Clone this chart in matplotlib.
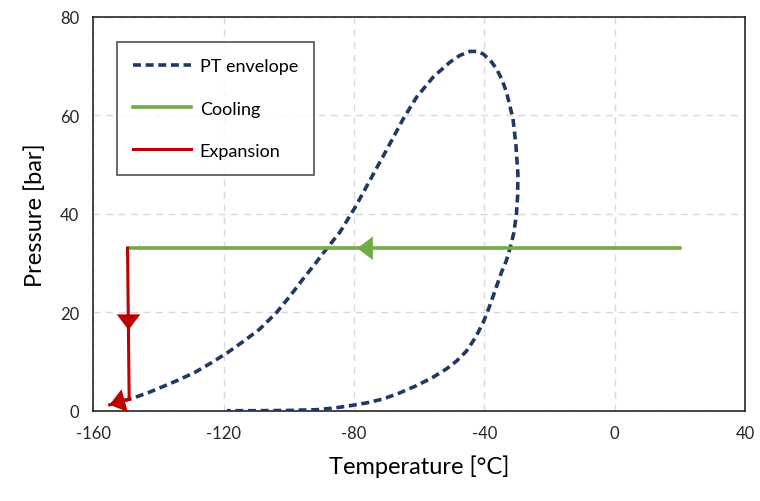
import numpy as np
import matplotlib.pyplot as plt

plt.rcParams['font.family'] = ['Lato', 'DejaVu Sans']
plt.rcParams['axes.unicode_minus'] = False

# PT envelope (temperature in C, pressure in bar)
env_T = [-154.4, -151.0, -147.2, -143.0, -139.0, -134.0, -128.8, -123.6, -118.6,
         -113.7, -108.9, -103.7, -99.5, -95.6, -92.0, -88.4, -84.3, -79.5, -74.3,
         -69.5, -64.9, -60.8, -55.7, -50.6, -47.5, -44.4, -42.3, -40.4, -38.2,
         -36.3, -34.6, -33.2, -31.2, -30.3, -29.7, -29.8, -30.2, -31.0, -32.2,
         -33.3, -34.7, -36.5, -38.3, -40.3, -42.7, -45.5, -48.5, -51.6, -56.0,
         -60.8, -66.0, -71.0, -76.0, -81.3, -86.0, -91.5, -100.0, -110.0, -119.0]
env_P = [1.4, 2.0, 2.7, 3.7, 4.8, 6.2, 7.8, 9.8, 11.9,
         14.2, 16.6, 20.0, 23.4, 26.8, 29.8, 32.9, 36.3, 41.5, 47.8,
         53.6, 59.3, 63.7, 67.8, 70.8, 72.2, 73.0, 73.0, 72.5, 71.2,
         69.5, 67.3, 64.7, 59.3, 53.9, 48.0, 43.5, 39.6, 36.0, 32.8,
         30.4, 28.2, 24.8, 21.4, 18.0, 14.9, 12.1, 10.1, 8.5, 6.7,
         5.1, 3.6, 2.4, 1.6, 1.0, 0.55, 0.2, 0.05, 0.0, 0.0]

# cooling path
cool_T = [20.0, -149.5]
cool_P = [33.0, 33.0]
cool_arrow = (-79.0, 33.0)

# expansion path
exp_T = [-149.5, -149.0, -155.0]
exp_P = [33.0, 2.3, 1.2]
exp_arrow_mid = (-149.2, 16.4)
exp_arrow_end = (-155.0, 1.2)

navy = '#1F3864'
green = '#70AD47'
red = '#C00000'

fig = plt.figure(figsize=(7.6, 5.02), dpi=100)
ax = fig.add_axes([0.1228, 0.1799, 0.8575, 0.7843])

ax.plot(env_T, env_P, color=navy, lw=2.6, ls=(0, (2.2, 1.3)), label='PT envelope', zorder=3)
ax.plot(cool_T, cool_P, color=green, lw=2.6, label='Cooling', zorder=4)
ax.plot(exp_T[:2], exp_P[:2], color=red, lw=2.2, label='Expansion', zorder=5)
ax.plot(exp_T[1:], exp_P[1:], color=red, lw=2.2, zorder=5)

# arrow heads
head = '-|>,head_length=0.45,head_width=0.34'
ax.annotate('', xy=cool_arrow, xytext=(cool_arrow[0] + 10, cool_arrow[1]),
            arrowprops=dict(arrowstyle=head, color=green, mutation_scale=25, lw=0,
                            shrinkA=0, shrinkB=0), zorder=6)
ax.annotate('', xy=exp_arrow_mid, xytext=(exp_arrow_mid[0], exp_arrow_mid[1] + 6),
            arrowprops=dict(arrowstyle=head, color=red, mutation_scale=25, lw=0,
                            shrinkA=0, shrinkB=0), zorder=6)
ax.annotate('', xy=exp_arrow_end, xytext=(exp_T[1], exp_P[1]),
            arrowprops=dict(arrowstyle=head, color=red, mutation_scale=25, lw=0,
                            shrinkA=0, shrinkB=0), zorder=6)

ax.set_xlim(-160, 40)
ax.set_ylim(0, 80)
ax.set_xticks([-160, -120, -80, -40, 0, 40])
ax.set_yticks([0, 20, 40, 60, 80])
ax.grid(True, color='#D9D9D9', ls=(0, (5, 4)), lw=1)
ax.set_axisbelow(True)
ax.tick_params(length=0, labelsize=12, colors='#262626', pad=10)
for s in ax.spines.values():
    s.set_color('#262626')
    s.set_linewidth(1.2)

ax.set_xlabel('Temperature [°C]', fontsize=17, color='#000000', labelpad=10)
ax.set_ylabel('Pressure [bar]', fontsize=17, color='#000000', labelpad=10)

leg = ax.legend(loc='upper left', bbox_to_anchor=(0.036, 0.936), fontsize=13,
                frameon=True, fancybox=False, edgecolor='#262626', handlelength=3.2,
                labelspacing=1.45, borderpad=0.9, handletextpad=0.5, borderaxespad=0)
leg.get_frame().set_linewidth(1.2)

fig.savefig('out.png', dpi=100)
